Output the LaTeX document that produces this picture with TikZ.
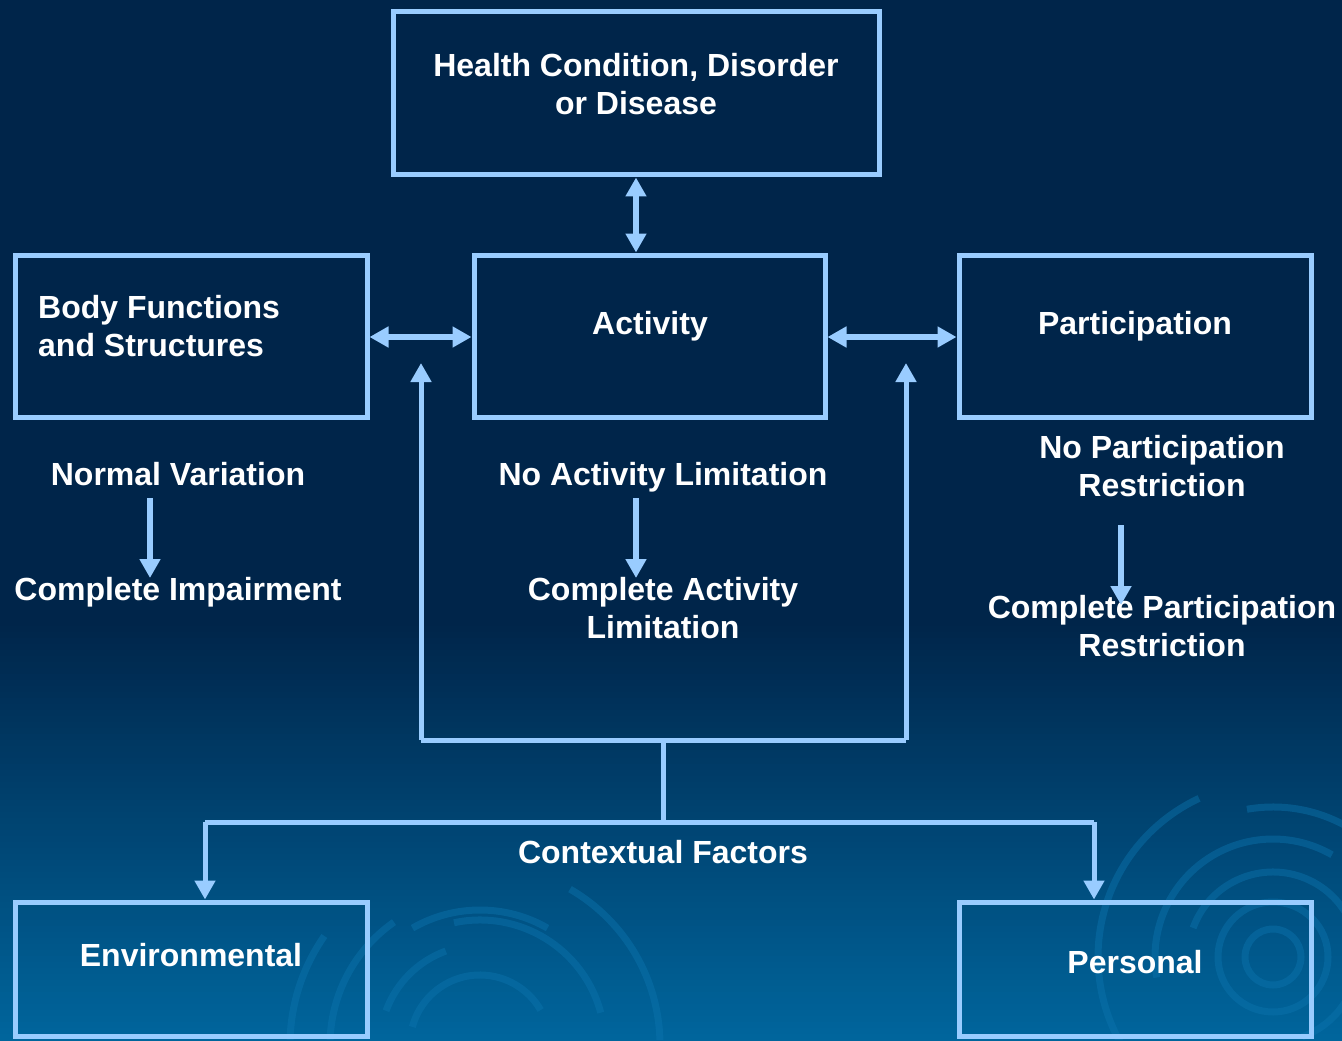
\documentclass[tikz,border=0pt]{standalone}
\usepackage{fontspec}
\setmainfont{Liberation Sans}
\usetikzlibrary{arrows.meta}
\definecolor{bgtop}{HTML}{00254A}
\definecolor{bgbot}{HTML}{00659C}
\definecolor{edge}{HTML}{99CCFF}
\definecolor{swirl}{HTML}{0C74AE}
\begin{document}
\begin{tikzpicture}[x=1pt,y=-1pt,
  box/.style={draw=edge,line width=5pt,inner sep=0pt},
  lbl/.style={text=white,font=\fontsize{32}{38}\selectfont\bfseries,align=center,inner sep=0pt},
  link/.style={draw=edge,line width=6pt},
  wire/.style={draw=edge,line width=5pt},
  tip/.style={-{Triangle[width=20pt,length=19pt]}},
  twotip/.style={{Triangle[width=20pt,length=19pt]}-{Triangle[width=20pt,length=19pt]}},
  ring/.style={draw=swirl,opacity=0.45,line width=7pt}]
% background: flat navy above, deepening to lighter blue towards the bottom
\fill[bgtop] (0,0) rectangle (1342,626);
\foreach \i in {0,...,69}{
  \pgfmathsetmacro{\yy}{620+\i*6}
  \pgfmathsetmacro{\pp}{100-\i*100/69}
  \fill[bgtop!\pp!bgbot] (0,\yy) rectangle (1342,\yy+6.6);
}
\useasboundingbox (0,0) rectangle (1342,1039);
% faint rings near the bottom
\begin{scope}
\clip (0,780) rectangle (1342,1039);
\draw[ring] (1273,957) circle[radius=28];
\draw[ring] (1273,957) circle[radius=55];
\draw[ring] (1273,957) ++(200:85) arc[start angle=200,end angle=430,radius=85];
\draw[ring] (1273,957) ++(170:118) arc[start angle=170,end angle=300,radius=118];
\draw[ring] (1273,957) ++(260:150) arc[start angle=260,end angle=340,radius=150];
\draw[ring] (1273,957) ++(150:175) arc[start angle=150,end angle=245,radius=175];
\draw[ring] (1273,957) ++(265:200) arc[start angle=265,end angle=320,radius=200];
\draw[ring] (480,1045) ++(195:70) arc[start angle=195,end angle=330,radius=70];
\draw[ring] (480,1045) ++(200:100) arc[start angle=200,end angle=250,radius=100];
\draw[ring] (480,1045) ++(258:125) arc[start angle=258,end angle=345,radius=125];
\draw[ring] (480,1045) ++(160:150) arc[start angle=160,end angle=235,radius=150];
\draw[ring] (480,1045) ++(240:135) arc[start angle=240,end angle=300,radius=135];
\draw[ring] (480,1045) ++(300:180) arc[start angle=300,end angle=360,radius=180];
\draw[ring] (480,1045) ++(170:190) arc[start angle=170,end angle=215,radius=190];
\end{scope}
% boxes
\node[box,minimum width=486pt,minimum height=163pt] (hc) at (636,93.5) {};
\node[box,minimum width=352pt,minimum height=162pt] (bf) at (191,336) {};
\node[box,minimum width=351pt,minimum height=162pt] (act) at (649.5,336) {};
\node[box,minimum width=352pt,minimum height=162pt] (par) at (1135,336) {};
\node[box,minimum width=352pt,minimum height=134pt] (env) at (191,969) {};
\node[box,minimum width=352pt,minimum height=134pt] (pers) at (1135,969) {};
% box captions
\node[lbl] (thc) at (636,84) {Health Condition, Disorder\\or Disease};
\node[lbl,anchor=west,align=left] (tbf) at (38,326) {Body Functions\\and Structures};
\node[lbl] (tact) at (650,326) {Activity};
\node[lbl] (tpar) at (1135,326) {Participation};
\node[lbl] (tenv) at (191,955) {Environmental};
\node[lbl] (tpers) at (1135,962) {Personal};
% scale texts
\node[lbl] (nv) at (178,474) {Normal Variation};
\node[lbl] (ci) at (178,592) {Complete Impairment};
\node[lbl] (nal) at (663,477) {No Activity Limitation};
\node[lbl] (cal) at (663,608) {Complete Activity\\Limitation};
\node[lbl] (npr) at (1162,466) {No Participation\\Restriction};
\node[lbl] (cpr) at (1162,626) {Complete Participation\\Restriction};
\node[lbl] (ctx) at (663,852) {Contextual Factors};
% connector end points
\coordinate (nvs) at (150,498);  \coordinate (nve) at (150,578);
\coordinate (nas) at (636,498);  \coordinate (nae) at (636,578);
\coordinate (nps) at (1121,525); \coordinate (npe) at (1121,605);
\coordinate (jl) at (421,740);   \coordinate (jr) at (906,740);
\coordinate (jm) at (663,740);   \coordinate (jb) at (663,822);
\coordinate (el) at (205,822);   \coordinate (er) at (1094,822);
\coordinate (ul) at (421,363);   \coordinate (ur) at (906,363);
% links between boxes
\draw[link,twotip] (hc.south) -- (act.north -| hc.south);
\draw[link,twotip] (bf.east |- 0,337) -- (act.west |- 0,337);
\draw[link,twotip] (act.east |- 0,337) -- (par.west |- 0,337);
% scale arrows
\draw[link,tip] (nvs) -- (nve);
\draw[link,tip] (nas) -- (nae);
\draw[link,tip] (nps) -- (npe);
% contextual factors
\draw[wire,tip] (jl) -- (ul);
\draw[wire,tip] (jr) -- (ur);
\draw[wire] (jl) -- (jr);
\draw[wire] (jm) -- (jb);
\draw[wire] (el) -- (er);
\draw[wire,tip] (el) -- (env.north -| el);
\draw[wire,tip] (er) -- (pers.north -| er);
\end{tikzpicture}
\end{document}
